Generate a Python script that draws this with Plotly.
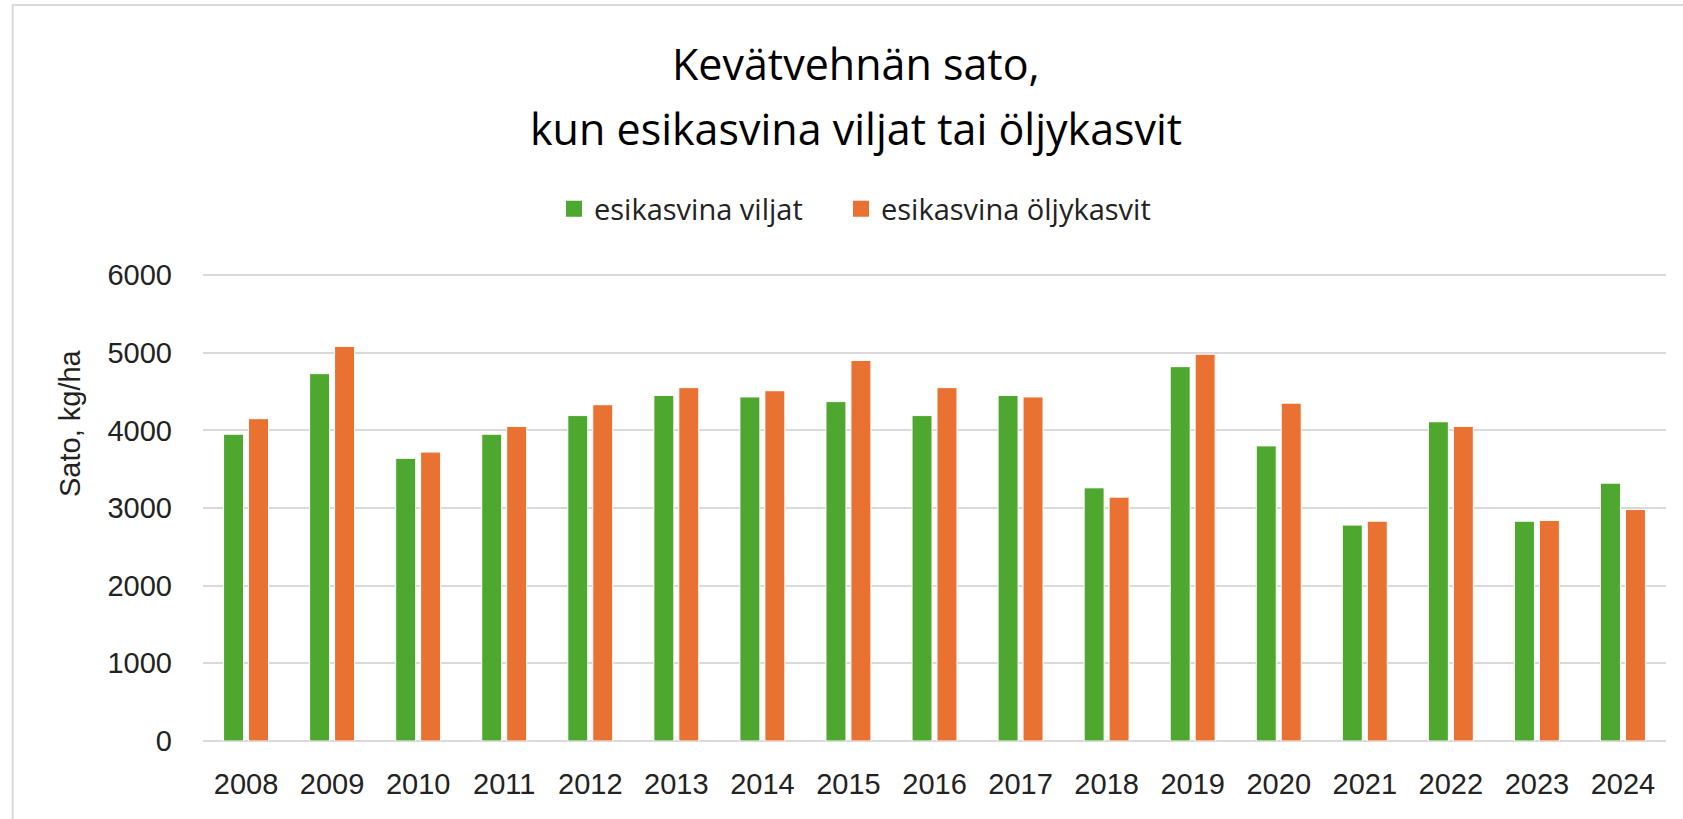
import plotly.graph_objects as go

years = ["2008", "2009", "2010", "2011", "2012", "2013", "2014", "2015", "2016",
         "2017", "2018", "2019", "2020", "2021", "2022", "2023", "2024"]
viljat = [3950, 4730, 3640, 3950, 4190, 4450, 4430, 4370, 4190, 4450, 3260, 4820, 3800, 2780, 4110, 2830, 3320]
oljykasvit = [4150, 5080, 3720, 4050, 4330, 4550, 4510, 4900, 4550, 4430, 3140, 4980, 4350, 2830, 4050, 2840, 2980]
y_ticks = [0, 1000, 2000, 3000, 4000, 5000, 6000]

title_lines = ["Kevätvehnän sato,", "kun esikasvina viljat tai öljykasvit"]
series_names = ["esikasvina viljat", "esikasvina öljykasvit"]
y_title = "Sato, kg/ha"

GREEN = "#4EA72E"
ORANGE = "#E97132"
GRID = "#d9d9d9"

W, H = 1683, 819
L, R, T, B = 203, 17, 273, 78
pw, ph = W - L - R, H - T - B
YMAX = 6026  # a little headroom so the 6000 gridline is drawn

def px_x(x):
    return (x - L) / pw

def px_y(y):
    return (H - B - y) / ph

fig = go.Figure()
fig.add_trace(go.Bar(x=years, y=viljat, name=series_names[0], showlegend=False,
                     marker=dict(color=GREEN, line=dict(color="white", width=1))))
fig.add_trace(go.Bar(x=years, y=oljykasvit, name=series_names[1], showlegend=False,
                     marker=dict(color=ORANGE, line=dict(color="white", width=1))))
# legend entries (larger square keys), one legend per series for exact placement
for nm, col, lg in zip(series_names, [GREEN, ORANGE], ["legend", "legend2"]):
    fig.add_trace(go.Scatter(x=[None], y=[None], mode="markers", name=nm, showlegend=True,
                             legend=lg,
                             marker=dict(symbol="square", size=16, color=col),
                             hoverinfo="skip"))

annotations = [
    dict(text=title_lines[0], x=px_x(856), y=px_y(63), xref="paper", yref="paper",
         xanchor="center", yanchor="middle", showarrow=False,
         font=dict(family="Open Sans", size=43, color="#000000")),
    dict(text=title_lines[1], x=px_x(856), y=px_y(128), xref="paper", yref="paper",
         xanchor="center", yanchor="middle", showarrow=False,
         font=dict(family="Open Sans", size=43, color="#000000")),
    dict(text=y_title, x=px_x(70), y=px_y(423), xref="paper", yref="paper",
         xanchor="center", yanchor="middle", showarrow=False, textangle=-90,
         font=dict(family="Liberation Sans", size=29, color="#222222")),
]

legend_common = dict(orientation="h", yanchor="middle", xanchor="left",
                     font=dict(family="Open Sans", size=29, color="#222222"),
                     itemsizing="trace", bgcolor="rgba(0,0,0,0)",
                     itemclick=False, itemdoubleclick=False)

fig.update_layout(
    width=W, height=H,
    margin=dict(l=L, r=R, t=T, b=B, pad=0),
    paper_bgcolor="white", plot_bgcolor="white",
    barmode="group", bargap=0.42, bargroupgap=0.2,
    showlegend=True,
    legend=dict(x=px_x(554), y=px_y(209), **legend_common),
    legend2=dict(x=px_x(841), y=px_y(209), **legend_common),
    annotations=annotations,
    shapes=[dict(type="rect", xref="paper", yref="paper",
                 x0=px_x(12.7), x1=px_x(1700), y0=px_y(830), y1=px_y(5),
                 line=dict(color=GRID, width=2), fillcolor="rgba(0,0,0,0)", layer="below")],
    xaxis=dict(type="category", showgrid=False, zeroline=False, showline=False,
               ticks="", ticklabelstandoff=23,
               tickfont=dict(family="Liberation Sans", size=29, color="#222222")),
    yaxis=dict(range=[0, YMAX], tickvals=y_ticks, showgrid=True, gridcolor=GRID, gridwidth=2,
               zeroline=True, zerolinecolor=GRID, zerolinewidth=2, showline=False,
               ticks="", ticklabelstandoff=30,
               tickfont=dict(family="Liberation Sans", size=29, color="#222222")),
)

fig.write_html("out.html", config={"displayModeBar": False},
               post_script="document.body.style.margin='0';")
